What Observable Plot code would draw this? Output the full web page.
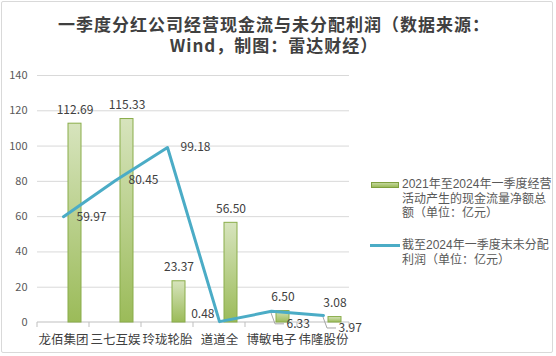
<!DOCTYPE html>
<html><head><meta charset="utf-8">
<script src="https://cdn.jsdelivr.net/npm/d3@7"></script>
<script src="https://cdn.jsdelivr.net/npm/@observablehq/plot@0.6"></script>
<style>
body{margin:0;background:#fff;}
#wrap{position:relative;width:556px;height:356px;font-family:"Noto Sans CJK SC","Noto Sans",sans-serif;overflow:hidden;}
#frame{position:absolute;left:1px;top:1px;width:552px;height:352px;border:1px solid #d9d9d9;border-radius:2px;box-sizing:border-box;}
#chart{position:absolute;left:0;top:0;}
#title{position:absolute;left:0;top:13px;width:548px;text-align:center;font-size:17px;letter-spacing:1px;font-weight:bold;color:#404040;line-height:21px;}
.leg{position:absolute;left:402px;width:152px;font-family:"Liberation Sans","Noto Sans CJK SC",sans-serif;font-size:12px;line-height:14.5px;color:#595959;}
.sw{position:absolute;}
</style></head>
<body>
<div id="wrap">
  <div id="frame"></div>
  <div id="chart"></div>
  <div id="title"></div>
  <div class="sw" id="sw1" style="left:371px;top:182px;width:28px;height:6px;border:1px solid #7f9f3f;background:linear-gradient(#c3d69b,#9bbb59);box-sizing:border-box;"></div>
  <div class="leg" id="leg1" style="top:177px;"></div>
  <div class="sw" id="sw2" style="left:370px;top:244px;width:30px;height:3px;background:#4bacc6;"></div>
  <div class="leg" id="leg2" style="top:238px;"></div>
</div>
<script>
const titleLines = ["一季度分红公司经营现金流与未分配利润（数据来源：", "Wind，制图：雷达财经）"];
const categories = ["龙佰集团","三七互娱","玲珑轮胎","道道全","博敏电子","伟隆股份"];
const cashFlow = [112.69,115.33,23.37,56.50,6.50,3.08];
const retained = [59.97,80.45,99.18,0.48,6.33,3.97];
const yTicks = [0,20,40,60,80,100,120,140];
const seriesNames = ["2021年至2024年一季度经营活动产生的现金流量净额总额（单位：亿元）","截至2024年一季度末未分配利润（单位：亿元）"];

const rows = categories.map((c,i)=>({c, i, cash: cashFlow[i], ret: retained[i]}));
const NS = "http://www.w3.org/2000/svg";

document.getElementById("title").innerHTML = titleLines.join("<br>");
document.getElementById("leg1").textContent = seriesNames[0];
document.getElementById("leg2").textContent = seriesNames[1];

function defsMark(){
  const g = document.createElementNS(NS,"g");
  const defs = document.createElementNS(NS,"defs");
  const lg = document.createElementNS(NS,"linearGradient");
  lg.setAttribute("id","barGrad"); lg.setAttribute("x1","0"); lg.setAttribute("y1","0"); lg.setAttribute("x2","0"); lg.setAttribute("y2","1");
  [["0%","#d7e4bd"],["100%","#9bbb59"]].forEach(([o,c])=>{
    const s=document.createElementNS(NS,"stop"); s.setAttribute("offset",o); s.setAttribute("stop-color",c); lg.appendChild(s);
  });
  defs.appendChild(lg); g.appendChild(defs);
  return g;
}

function bw(x){ return typeof x.bandwidth === "function" ? x.bandwidth() : x.bandwidth; }

function xAxisLine(index, scales){
  const x = scales.x, y = scales.y, w = bw(x);
  const g = document.createElementNS(NS,"g");
  g.setAttribute("stroke","#bfbfbf"); g.setAttribute("fill","none");
  const y0 = y(0);
  const xs = categories.map(c=>x(c)); xs.push(x(categories[categories.length-1])+w);
  let d = `M${xs[0]},${y0}H${xs[xs.length-1]}`;
  xs.forEach(v=>{ d += `M${v},${y0}V${y0+5}`; });
  const p = document.createElementNS(NS,"path"); p.setAttribute("d",d); g.appendChild(p);
  return g;
}

function leaders(index, scales){
  const x = scales.x, y = scales.y, w = bw(x);
  const g = document.createElementNS(NS,"g");
  g.setAttribute("stroke","#a6a6a6"); g.setAttribute("fill","none");
  rows.filter(r=>r.i>=4).forEach(r=>{
    const px = x(r.c)+w/2, py = y(r.ret);
    const p = document.createElementNS(NS,"path");
    p.setAttribute("d",`M${px},${py+2}L${px+4},${py+13}H${px+13}`);
    g.appendChild(p);
  });
  return g;
}

const font = {fontSize:12, fill:"#404040"};
const chart = Plot.plot({
  width:556, height:356,
  marginLeft:37, marginRight:207, marginTop:75, marginBottom:34,
  x:{type:"band", domain:categories, paddingInner:0, paddingOuter:0},
  y:{domain:[0,140]},
  style:{fontFamily:'"Noto Sans CJK SC","Noto Sans",sans-serif', background:"transparent", overflow:"visible"},
  marks:[
    defsMark,
    Plot.gridY(yTicks.filter(v=>v>0), {stroke:"#d9d9d9", strokeOpacity:1}),
    Plot.axisY(yTicks, {tickSize:0, tickPadding:10, fontSize:11, fill:"#595959", label:null}),
    xAxisLine,
    Plot.axisX({tickSize:0, tickPadding:13, fontSize:12.5, fill:"#404040", label:null}),
    Plot.barY(rows, {x:"c", y:"cash", insetLeft:31, insetRight:8, fill:"url(#barGrad)", stroke:"#8aad4a", strokeWidth:1}),
    Plot.text(rows, {x:"c", y:"cash", text:d=>d.cash.toFixed(2), dx:11.5, dy:-10, lineAnchor:"bottom", ...font}),
    leaders,
    Plot.line(rows, {x:"c", y:"ret", stroke:"#4bacc6", strokeWidth:3}),
    Plot.text(rows, {filter:d=>d.i<3, x:"c", y:"ret", text:d=>d.ret.toFixed(2), textAnchor:"start", dx:13, ...font}),
    Plot.text(rows, {filter:d=>d.i===3, x:"c", y:"ret", text:d=>d.ret.toFixed(2), textAnchor:"end", dx:-5, dy:-7, ...font}),
    Plot.text(rows, {filter:d=>d.i>=4, x:"c", y:"ret", text:d=>d.ret.toFixed(2), textAnchor:"start", dx:15, dy:13, ...font})
  ]
});
document.getElementById("chart").appendChild(chart);
</script>
</body></html>
